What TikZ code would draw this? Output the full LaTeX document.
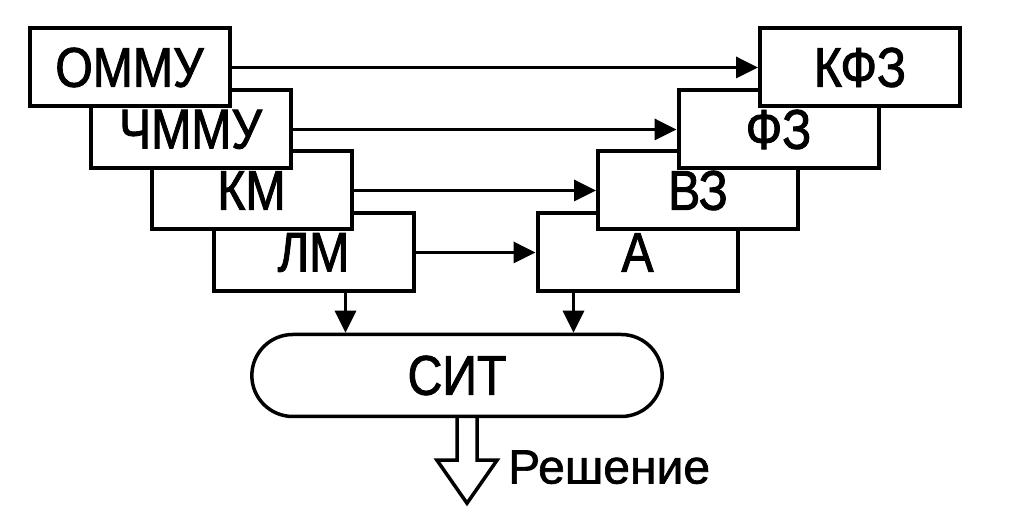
\documentclass[tikz,border=0pt]{standalone}
\usepackage{fontspec}
\setmainfont{Liberation Sans}[FakeBold=1.2]
\newfontfamily\blockfont{Liberation Sans}[FakeStretch=0.86, FakeBold=1.6]
\newfontfamily\labelfont{Liberation Sans}[FakeBold=1.4]
\usepackage{tikz}
\usetikzlibrary{positioning, shapes.misc, arrows.meta}

\tikzset{
  block/.style={draw, fill=white, line width=4pt, minimum width=200pt, minimum height=78pt,
    inner sep=0pt, font=\blockfont\fontsize{56}{60}\selectfont},
  flow/.style={line width=3.5pt, -{Triangle[length=22pt, width=21pt]}},
}

\begin{document}
\begin{tikzpicture}[x=1pt, y=1pt]
    \useasboundingbox (0,0) rectangle (1030,526);

    \node[block] (lm) at (313.5,273.5) {ЛМ};
    \node[block, on grid] (km) [above left=62pt and 62pt of lm] {КМ};
    \node[block, on grid] (chmmu) [above left=61pt and 61pt of km] {ЧММУ};
    \node[block, on grid] (ommu) [above left=62pt and 61pt of chmmu] {ОММУ};

    \node[block] (a) [right=120pt of lm] {А};
    \node[block, on grid] (vz) [above right=62pt and 60.5pt of a] {ВЗ};
    \node[block, on grid] (fz) [above right=61pt and 80.5pt of vz] {ФЗ};
    \node[block, on grid] (kfz) [above right=62pt and 81.5pt of fz] {КФЗ};

    \node[draw, rounded rectangle, line width=3.5pt, minimum width=417pt, minimum height=82pt,
      font=\blockfont\fontsize{56}{60}\selectfont] (sit) at (457,150.5) {СИТ};

    \path[flow]
    (ommu) edge (kfz)
    (chmmu) edge (fz)
    (km) edge (vz)
    (lm) edge (a);

    \coordinate (lmout) at ([xshift=32pt]lm.south);
    \coordinate (aout) at ([xshift=-64pt]a.south);
    \draw[flow] (lmout) -- (lmout |- sit.north);
    \draw[flow] (aout) -- (aout |- sit.north);

    % hollow output arrow
    \coordinate (out) at ([xshift=10pt]sit.south);
    \draw[line width=3.5pt] (out) ++(-10,0) -- ++(0,-42) -- ++(-20,0) -- ++(30,-43)
      -- ++(30,43) -- ++(-20,0) -- ++(0,42);
    \node[anchor=west, inner sep=0pt, font=\labelfont\fontsize{48}{52}\selectfont] (decision)
      at ([shift={(41,-49)}]out) {Решение};
\end{tikzpicture}
\end{document}
